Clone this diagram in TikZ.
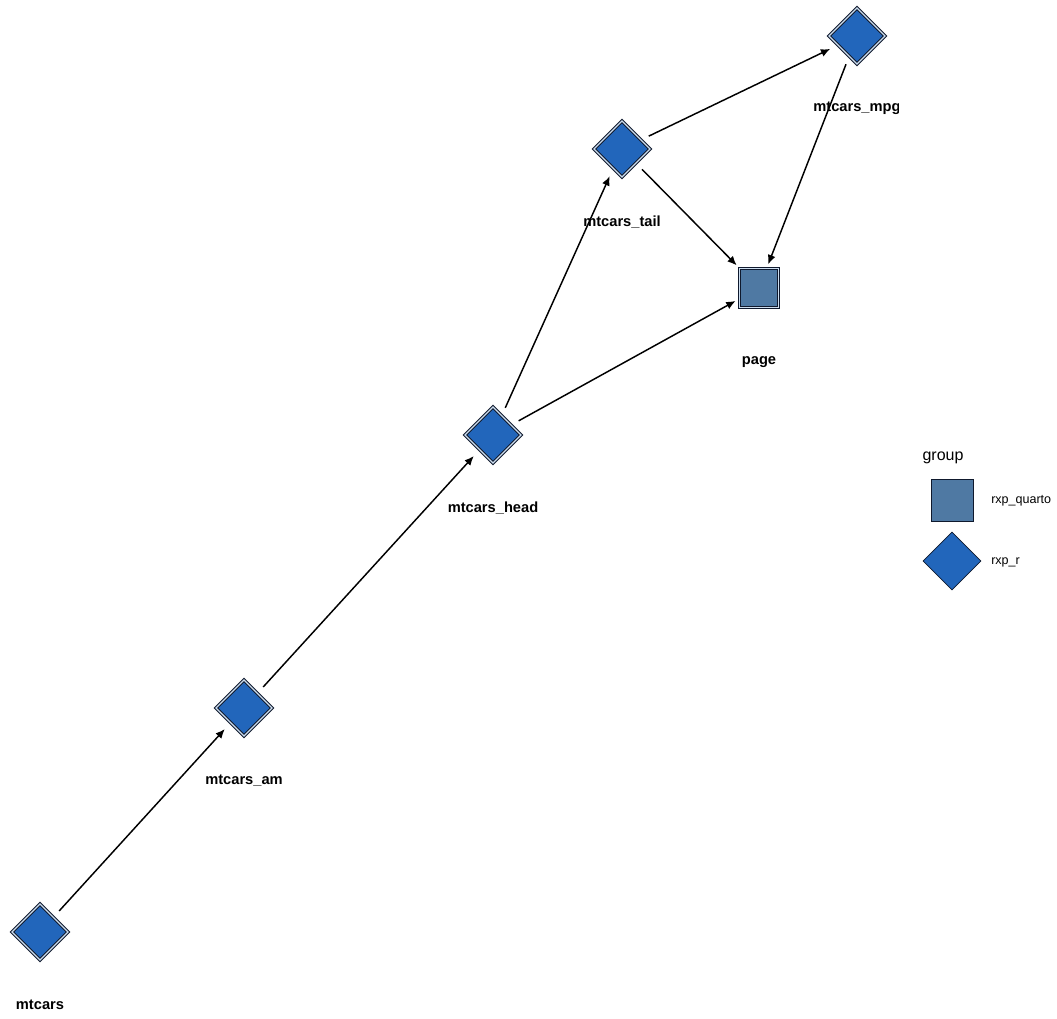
\documentclass[tikz,border=0pt]{standalone}
\usepackage{fontspec}
\setmainfont{Liberation Sans}
\usetikzlibrary{arrows.meta,positioning,shapes.geometric}
\definecolor{rnode}{RGB}{34,102,187}
\definecolor{qnode}{RGB}{79,121,163}
\definecolor{rim}{RGB}{15,25,45}
\definecolor{gap}{RGB}{205,222,240}

\tikzset{
  rdiamond/.style={diamond, aspect=1, inner sep=0pt, minimum width=42pt, minimum height=42pt,
    fill=rnode, draw=rim, line width=0.8pt, double=gap, double distance=0.9pt, outer sep=0pt},
  qsquare/.style={rectangle, inner sep=0pt, minimum size=29pt,
    fill=qnode, draw=rim, line width=0.8pt, double=gap, double distance=0.9pt, outer sep=0pt},
  nlabel/.style={font=\fontsize{11}{13}\selectfont\bfseries, inner sep=0pt},
  dep/.style={line width=1.1pt, -{Latex[length=7pt,width=6pt]}, shorten <=6.5pt, shorten >=6.5pt},
  legtext/.style={font=\fontsize{9.4}{11}\selectfont, anchor=west, inner sep=0pt}
}

\begin{document}
\begin{tikzpicture}[x=0.75pt, y=-0.75pt]
\useasboundingbox (0,0) rectangle (1057,1018);

\begin{scope}
\clip (0,0) rectangle (898,1018);
% Targets
\node[rdiamond] (mtcars) at (40,932) {};
\node[rdiamond] (am) at (244,708) {};
\node[rdiamond] (head) at (493,435) {};
\node[rdiamond] (tail) at (622,149) {};
\node[rdiamond] (mpg) at (857,36) {};
\node[qsquare] (page) at (759,288) {};

% Labels
\node[nlabel, below=33.5pt of mtcars, anchor=center] (lmtcars) {mtcars};
\node[nlabel, below=33.5pt of am, anchor=center] (lam) {mtcars\_am};
\node[nlabel, below=33.5pt of head, anchor=center] (lhead) {mtcars\_head};
\node[nlabel, below=33.5pt of tail, anchor=center] (ltail) {mtcars\_tail};
\node[nlabel, below=33.5pt of mpg, anchor=center] (lmpg) {mtcars\_mpg};
\node[nlabel, below=41pt of page, anchor=center] (lpage) {page};

% Dependencies
\foreach \a/\b in {mtcars/am, am/head, head/tail, tail/mpg}
  \draw[dep] (\a) -- (\b);
\foreach \a in {head, tail, mpg}
  \draw[dep, shorten >=3.5pt] (\a) -- (page);
\end{scope}

% Legend
\node[font=\fontsize{12}{14}\selectfont] (group) at (943,458) {group};
\node[rectangle, minimum size=31.5pt, inner sep=0pt, fill=qnode, draw=rim, line width=0.5pt] (legq) at (952,500) {};
\node[diamond, aspect=1, minimum width=43.5pt, minimum height=43.5pt, inner sep=0pt, fill=rnode, draw=rim, line width=0.5pt] (legr) at (952,561) {};
\node[legtext] (legqt) at (991,501) {rxp\_quarto};
\node[legtext] (legrt) at (991,562) {rxp\_r};
\end{tikzpicture}
\end{document}
